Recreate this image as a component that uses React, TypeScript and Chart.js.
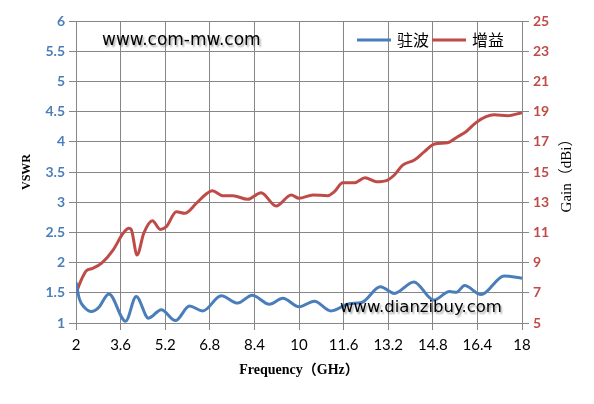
import { useEffect, useRef } from "react";
import { Chart, registerables } from "chart.js";

Chart.register(...registerables);

const freqTicks = [2, 3.6, 5.2, 6.8, 8.4, 10, 11.6, 13.2, 14.8, 16.4, 18];
const freqTickLabels = ["2", "3.6", "5.2", "6.8", "8.4", "10", "11.6", "13.2", "14.8", "16.4", "18"];

const seriesNames = ["驻波", "增益"];
const watermarks = ["www.com-mw.com", "www.dianzibuy.com"];
const axisTitles = ["Frequency（GHz）", "VSWR", "Gain（dBi）"];

const vswrFreq = [2, 2.12, 2.3, 2.55, 2.8, 3.18, 3.78, 4.16, 4.6, 5.06, 5.57, 6.07, 6.55, 7.21, 7.8, 8.32, 8.94, 9.42, 10, 10.55, 11.15, 11.8, 12.25, 12.92, 13.42, 14.12, 14.83, 15.4, 15.65, 15.94, 16.53, 17.36, 18];
const vswrValues = [1.68, 1.4, 1.26, 1.19, 1.25, 1.48, 1.03, 1.44, 1.08, 1.22, 1.04, 1.28, 1.2, 1.45, 1.33, 1.46, 1.31, 1.41, 1.27, 1.36, 1.2, 1.32, 1.34, 1.6, 1.49, 1.68, 1.38, 1.52, 1.51, 1.62, 1.47, 1.78, 1.74];

const gainFreq = [2, 2.19, 2.37, 2.6, 2.91, 3.33, 3.69, 3.9, 3.98, 4.19, 4.43, 4.74, 5.02, 5.24, 5.6, 5.9, 6.32, 6.67, 6.89, 7.27, 7.63, 8.16, 8.64, 9.18, 9.72, 10, 10.5, 11.03, 11.27, 11.57, 11.99, 12.37, 12.77, 13.18, 13.42, 13.72, 14.14, 14.5, 14.86, 15.33, 15.69, 15.99, 16.35, 16.71, 17, 17.48, 18];
const gainValues = [6.97, 7.85, 8.46, 8.62, 8.95, 9.83, 10.94, 11.27, 11.2, 9.5, 10.94, 11.77, 11.2, 11.38, 12.37, 12.26, 12.93, 13.54, 13.76, 13.43, 13.43, 13.19, 13.63, 12.75, 13.48, 13.26, 13.48, 13.43, 13.7, 14.29, 14.29, 14.62, 14.36, 14.47, 14.8, 15.46, 15.79, 16.35, 16.85, 16.94, 17.34, 17.67, 18.27, 18.66, 18.79, 18.73, 18.93];

const BLUE = "#4a7ebb";
const RED = "#be4b48";
const GRID = "#868686";

const overlayPlugin = {
  id: "overlay",
  afterDatasetsDraw(chart: any) {
    const { ctx, chartArea: a } = chart;
    ctx.save();
    // legend
    ctx.font = "16px 'Noto Sans CJK SC'";
    ctx.textBaseline = "middle";
    ctx.textAlign = "left";
    let x = a.right - 165;
    const ly = a.top + 19;
    chart.data.datasets.forEach((ds: any) => {
      ctx.strokeStyle = ds.borderColor;
      ctx.lineWidth = 3;
      ctx.beginPath();
      ctx.moveTo(x, ly);
      ctx.lineTo(x + 34, ly);
      ctx.stroke();
      x += 40;
      ctx.fillStyle = "#000";
      ctx.fillText(ds.label, x, ly);
      x += ctx.measureText(ds.label).width + 3;
    });
    // watermarks
    ctx.shadowColor = "rgba(0,0,0,0.35)";
    ctx.shadowOffsetX = 1.5;
    ctx.shadowOffsetY = 1.5;
    ctx.shadowBlur = 2;
    ctx.textBaseline = "alphabetic";
    ctx.fillStyle = "#000";
    ctx.font = "17px 'DejaVu Sans'";
    ctx.fillText(watermarks[0], a.left + 26, a.top + 24);
    ctx.font = "16.5px 'DejaVu Sans'";
    ctx.fillText(watermarks[1], a.left + 264, a.bottom - 11);
    ctx.restore();
  },
  afterDraw(chart: any) {
    const { ctx, chartArea: a } = chart;
    ctx.save();
    ctx.translate(567, (a.top + a.bottom) / 2);
    ctx.rotate(-Math.PI / 2);
    ctx.font = "15px 'Liberation Serif', 'Noto Sans CJK SC'";
    ctx.fillStyle = "#000";
    ctx.textAlign = "center";
    ctx.textBaseline = "middle";
    ctx.fillText(axisTitles[2], 0, 0);
    ctx.restore();
  },
};

export default function App() {
  const ref = useRef<HTMLCanvasElement>(null);
  useEffect(() => {
    if (!ref.current) return;
    const chart = new Chart(ref.current, {
      type: "line",
      data: {
        datasets: [
          {
            label: seriesNames[0],
            data: vswrFreq.map((f, i) => ({ x: f, y: vswrValues[i] })),
            borderColor: BLUE,
            backgroundColor: BLUE,
            borderWidth: 3,
            pointRadius: 0,
            cubicInterpolationMode: "monotone",
            yAxisID: "y",
          },
          {
            label: seriesNames[1],
            data: gainFreq.map((f, i) => ({ x: f, y: gainValues[i] })),
            borderColor: RED,
            backgroundColor: RED,
            borderWidth: 3,
            pointRadius: 0,
            cubicInterpolationMode: "monotone",
            yAxisID: "y1",
          },
        ],
      },
      options: {
        animation: false,
        responsive: false,
        devicePixelRatio: 1,
        layout: { padding: { top: 21, left: 0, right: 0, bottom: 0 } },
        plugins: { legend: { display: false }, tooltip: { enabled: false } },
        scales: {
          x: {
            type: "linear",
            min: 2,
            max: 18,
            afterBuildTicks: (s: any) => {
              s.ticks = freqTicks.map((v) => ({ value: v }));
            },
            afterFit: (s: any) => {
              s.height = 81;
            },
            ticks: {
              autoSkip: false,
              maxRotation: 0,
              padding: 6,
              color: "#000",
              font: { family: "Lato", size: 15 },
              callback: (_v: any, i: number) => freqTickLabels[i],
            },
            grid: { color: GRID, tickLength: 7, lineWidth: 1 },
            border: { color: GRID },
            title: {
              display: true,
              text: axisTitles[0],
              color: "#000",
              font: { family: "'Liberation Serif', 'Noto Sans CJK SC'", size: 14, weight: "bold" },
              padding: { top: 0, bottom: 25 },
            },
          },
          y: {
            position: "left",
            min: 1,
            max: 6,
            afterFit: (s: any) => {
              s.width = 76;
            },
            ticks: {
              stepSize: 0.5,
              padding: 4,
              color: BLUE,
              font: { family: "Lato", size: 14, weight: "bold" },
              callback: (v: any) => String(v),
            },
            grid: { color: GRID, tickLength: 7, lineWidth: 1 },
            border: { color: GRID },
            title: {
              display: true,
              text: axisTitles[1],
              color: "#000",
              font: { family: "'Liberation Serif'", size: 12, weight: "bold" },
              padding: { top: 20, bottom: 0 },
            },
          },
          y1: {
            position: "right",
            min: 5,
            max: 25,
            afterFit: (s: any) => {
              s.width = 72;
            },
            ticks: {
              stepSize: 2,
              padding: 4,
              color: RED,
              font: { family: "Lato", size: 14, weight: "bold" },
            },
            grid: { drawOnChartArea: false, color: GRID, tickLength: 7, lineWidth: 1 },
            border: { color: GRID },
          },
        },
      },
      plugins: [overlayPlugin],
    } as any);
    return () => chart.destroy();
  }, []);
  return (
    <div style={{ position: "fixed", left: 0, top: 0, width: 594, height: 404, background: "#fff" }}>
      <canvas ref={ref} width={594} height={404} />
    </div>
  );
}
